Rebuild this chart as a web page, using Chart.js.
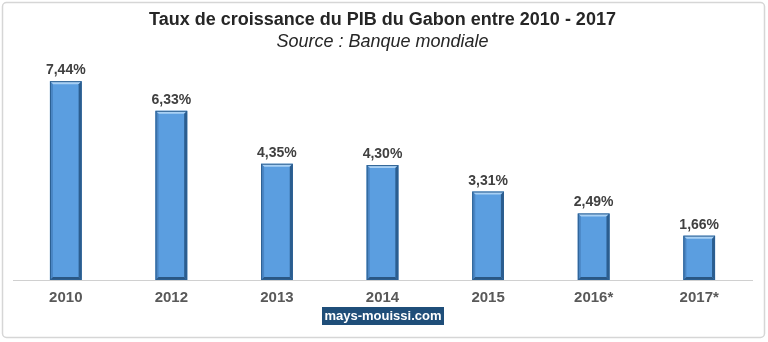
<!DOCTYPE html>
<html>
<head>
<meta charset="utf-8">
<script src="https://cdn.jsdelivr.net/npm/chart.js@4"></script>
<style>
  body { margin: 0; background: #fff; }
  #wrap { width: 768px; height: 342px; position: relative; }
</style>
</head>
<body>
<div id="wrap"><canvas id="pibChart" width="768" height="342"></canvas></div>
<script>
const years = ['2010', '2012', '2013', '2014', '2015', '2016*', '2017*'];
const growth = [7.44, 6.33, 4.35, 4.30, 3.31, 2.49, 1.66];
const titleText = 'Taux de croissance du PIB du Gabon entre 2010 - 2017';
const sourceText = 'Source : Banque mondiale';
const siteText = 'mays-mouissi.com';

function fmt(v) {
    return v.toFixed(2).replace('.', ',') + '%';
}

// frame, bevelled bars, value labels and site tag
const decorPlugin = {
    id: 'decor',
    beforeDraw(chart) {
        const c = chart.ctx;
        c.save();
        c.strokeStyle = '#d6d6d6';
        c.lineWidth = 1.5;
        c.beginPath();
        c.roundRect(2.5, 2.5, 762, 335, 4);
        c.stroke();
        c.restore();
    },
    afterDatasetsDraw(chart) {
        const c = chart.ctx;
        const meta = chart.getDatasetMeta(0);
        c.save();
        meta.data.forEach((bar, i) => {
            const p = bar.getProps(['x', 'y', 'base', 'width'], true);
            const l = p.x - p.width / 2, r = p.x + p.width / 2;
            const t = p.y, b = p.base, e = 3;
            // top light edge
            c.fillStyle = '#a8d0f4';
            c.beginPath();
            c.moveTo(l, t); c.lineTo(r, t); c.lineTo(r - e, t + e); c.lineTo(l + e, t + e);
            c.fill();
            // left edge
            c.fillStyle = '#4a86c4';
            c.beginPath();
            c.moveTo(l, t); c.lineTo(l + e, t + e); c.lineTo(l + e, b - e); c.lineTo(l, b);
            c.fill();
            // right dark edge
            c.fillStyle = '#2b5d8f';
            c.beginPath();
            c.moveTo(r, t); c.lineTo(r, b); c.lineTo(r - e, b - e); c.lineTo(r - e, t + e);
            c.fill();
            // bottom dark edge
            c.fillStyle = '#2a5784';
            c.beginPath();
            c.moveTo(l, b); c.lineTo(r, b); c.lineTo(r - e, b - e); c.lineTo(l + e, b - e);
            c.fill();
            c.strokeStyle = '#2c5f91';
            c.lineWidth = 1;
            c.strokeRect(l + 0.5, t + 0.5, p.width - 1, b - t - 1);

            c.fillStyle = '#404040';
            c.font = 'bold 14px "Liberation Sans", Arial, sans-serif';
            c.textAlign = 'center';
            c.textBaseline = 'alphabetic';
            c.fillText(fmt(growth[i]), p.x, t - 7);
        });

        // site tag
        c.fillStyle = '#1f4e79';
        c.fillRect(322, 307, 122, 18);
        c.fillStyle = '#ffffff';
        c.font = 'bold 13px "Liberation Sans", Arial, sans-serif';
        c.textAlign = 'center';
        c.textBaseline = 'middle';
        c.fillText(siteText, 383, 316.5);
        c.restore();
    }
};

const ctx = document.getElementById('pibChart').getContext('2d');
new Chart(ctx, {
    type: 'bar',
    data: {
        labels: years,
        datasets: [{
            label: 'Taux de croissance',
            data: growth,
            backgroundColor: '#5b9ee0',
            borderWidth: 0,
            barPercentage: 0.6,
            categoryPercentage: 0.5
        }]
    },
    options: {
        responsive: false,
        animation: false,
        layout: { padding: { left: 13, right: 16, top: 0, bottom: 26 } },
        plugins: {
            legend: { display: false },
            tooltip: { enabled: false },
            title: {
                display: true,
                text: titleText,
                color: '#262626',
                font: { family: '"Liberation Sans", Arial, sans-serif', size: 18, weight: 'bold' },
                padding: { top: 9, bottom: 1 }
            },
            subtitle: {
                display: true,
                text: sourceText,
                color: '#262626',
                font: { family: '"Liberation Sans", Arial, sans-serif', size: 18, style: 'italic' },
                padding: { top: 0, bottom: 13 }
            }
        },
        scales: {
            x: {
                grid: { display: false, drawTicks: false },
                border: { display: true, color: '#d0d0d0', width: 1 },
                ticks: {
                    color: '#595959',
                    padding: 9,
                    font: { family: '"Liberation Sans", Arial, sans-serif', size: 15, weight: 'bold' }
                }
            },
            y: {
                display: false,
                min: 0,
                max: 8
            }
        }
    },
    plugins: [decorPlugin]
});
</script>
</body>
</html>
